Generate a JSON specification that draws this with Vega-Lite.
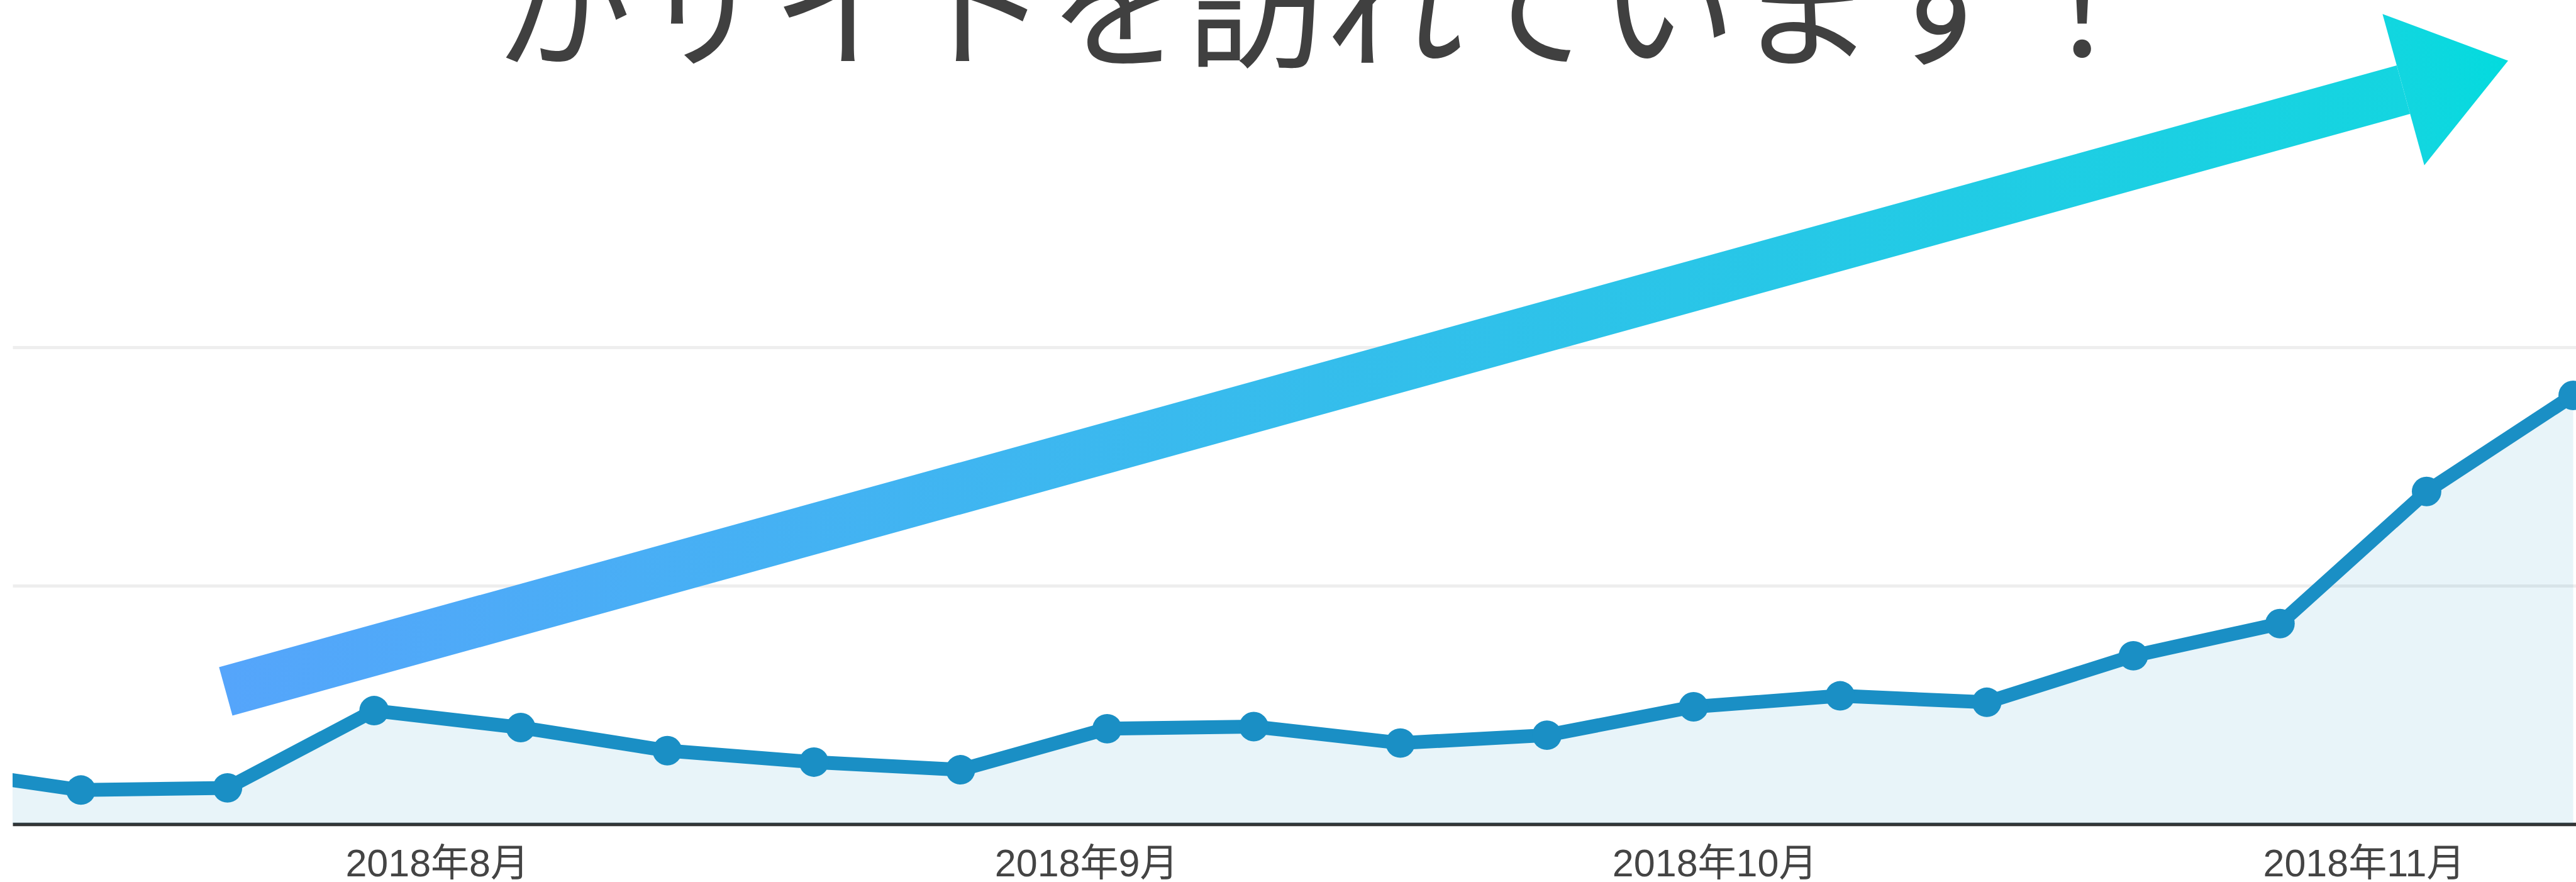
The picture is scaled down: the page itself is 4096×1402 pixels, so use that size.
{
  "$schema": "https://vega.github.io/schema/vega-lite/v6.json",
  "autosize": {"type": "none"},
  "padding": {"left": 20, "top": 0, "right": 0, "bottom": 92},
  "width": 4076,
  "height": 1310,
  "background": "#ffffff",
  "config": {"view": {"stroke": null}},
  "datasets": {
    "weekly": [
      {"date": "2018-07-08", "users": 23.2},
      {"date": "2018-07-15", "users": 14.3},
      {"date": "2018-07-22", "users": 15.2},
      {"date": "2018-07-29", "users": 47.6},
      {"date": "2018-08-05", "users": 40.5},
      {"date": "2018-08-12", "users": 30.8},
      {"date": "2018-08-19", "users": 26.0},
      {"date": "2018-08-26", "users": 22.8},
      {"date": "2018-09-02", "users": 40.0},
      {"date": "2018-09-09", "users": 40.9},
      {"date": "2018-09-16", "users": 34.0},
      {"date": "2018-09-23", "users": 37.3},
      {"date": "2018-09-30", "users": 49.2},
      {"date": "2018-10-07", "users": 53.8},
      {"date": "2018-10-14", "users": 51.1},
      {"date": "2018-10-21", "users": 70.6},
      {"date": "2018-10-28", "users": 84.1},
      {"date": "2018-11-04", "users": 139.5},
      {"date": "2018-11-11", "users": 179.8}
    ],
    "note": [
      {"label": "がサイトを訪れています！"}
    ]
  },
  "layer": [
    {
      "data": {"name": "weekly"},
      "encoding": {
        "x": {
          "field": "date",
          "type": "temporal",
          "scale": {
            "type": "utc",
            "domain": [
              {"year": 2018, "month": 7, "date": 11, "hours": 17, "minutes": 44, "utc": true},
              {"year": 2018, "month": 11, "date": 11, "hours": 3, "minutes": 13, "utc": true}
            ]
          },
          "axis": {
            "title": null,
            "values": [
              {"year": 2018, "month": 8, "date": 1, "utc": true},
              {"year": 2018, "month": 9, "date": 1, "utc": true},
              {"year": 2018, "month": 10, "date": 1, "utc": true},
              {"year": 2018, "month": 11, "date": 1, "utc": true}
            ],
            "format": "%Y年%-m月",
            "grid": false,
            "ticks": false,
            "tickSize": 0,
            "domain": true,
            "domainColor": "#333333",
            "domainWidth": 5.5,
            "labelFont": "Liberation Sans, Noto Sans CJK JP",
            "labelFontSize": 61,
            "labelColor": "#444444",
            "labelPadding": 82,
            "labelBaseline": "alphabetic",
            "labelLimit": 2000,
            "labelFlush": false,
            "labelOverlap": false
          }
        },
        "y": {
          "field": "users",
          "type": "quantitative",
          "scale": {"domain": [0, 345.6], "nice": false, "zero": true},
          "axis": {
            "title": null,
            "values": [100, 200],
            "grid": true,
            "gridColor": "#eeeeee",
            "gridWidth": 4.8,
            "labels": false,
            "ticks": false,
            "domain": false
          }
        }
      },
      "layer": [
        {"mark": {"type": "area", "color": "#1a8fc5", "opacity": 0.1, "clip": true}},
        {"mark": {"type": "line", "color": "#1a8fc5", "strokeWidth": 22, "strokeJoin": "round", "clip": true}},
        {"mark": {"type": "point", "shape": "circle", "filled": true, "color": "#1a8fc5", "opacity": 1, "size": 2200, "clip": true}}
      ]
    },
    {
      "data": {"values": [{"annotation": "trend"}]},
      "mark": {
        "type": "rule",
        "strokeWidth": 80,
        "strokeCap": "butt",
        "stroke": {
          "gradient": "linear",
          "x1": 0, "y1": 0, "x2": 1, "y2": 0,
          "stops": [
            {"offset": 0, "color": "#55a5fb"},
            {"offset": 0.5, "color": "#35bdec"},
            {"offset": 1, "color": "#14d5e0"}
          ]
        }
      },
      "encoding": {
        "x": {"datum": {"year": 2018, "month": 7, "date": 21, "hours": 22, "utc": true}, "type": "temporal"},
        "x2": {"datum": {"year": 2018, "month": 11, "date": 2, "hours": 21, "minutes": 27, "utc": true}},
        "y": {"datum": 55.67, "type": "quantitative"},
        "y2": {"datum": 308.0}
      }
    },
    {
      "data": {"values": [{"annotation": "trend"}]},
      "mark": {
        "type": "point",
        "shape": "M0,-1L1.384,0L0,1Z",
        "size": 62250,
        "angle": 344.56,
        "filled": true,
        "opacity": 1,
        "strokeWidth": 0,
        "fill": {
          "gradient": "linear",
          "x1": 0, "y1": 0, "x2": 1, "y2": 0,
          "stops": [
            {"offset": 0, "color": "#12d6e0"},
            {"offset": 1, "color": "#03dbde"}
          ]
        }
      },
      "encoding": {
        "x": {"datum": {"year": 2018, "month": 11, "date": 2, "hours": 21, "minutes": 27, "utc": true}, "type": "temporal"},
        "y": {"datum": 308.0, "type": "quantitative"}
      }
    },
    {
      "data": {"name": "note"},
      "mark": {
        "type": "text",
        "font": "Noto Sans CJK JP",
        "fontSize": 220,
        "color": "#404040",
        "align": "center",
        "baseline": "alphabetic"
      },
      "encoding": {
        "x": {"datum": {"year": 2018, "month": 9, "date": 12, "hours": 7, "minutes": 38, "utc": true}, "type": "temporal"},
        "y": {"datum": 321.7, "type": "quantitative"},
        "text": {"field": "label"}
      }
    }
  ]
}
